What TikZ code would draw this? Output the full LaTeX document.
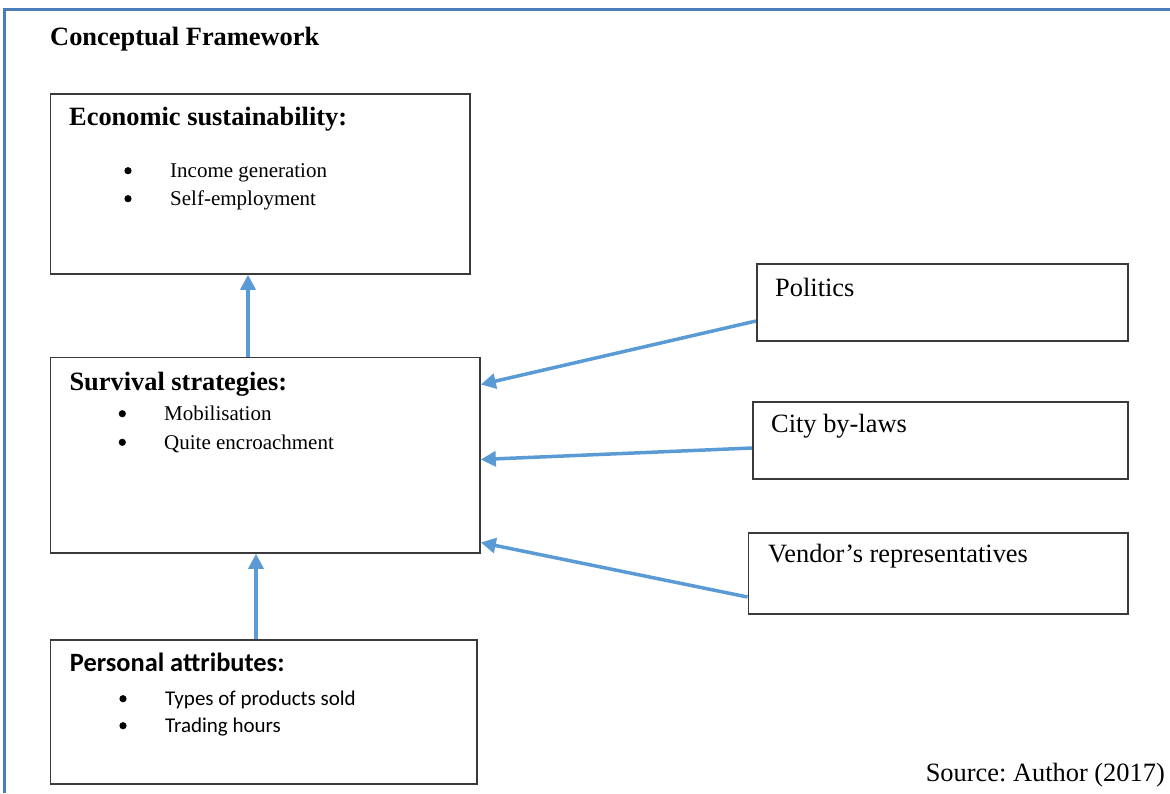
\documentclass[tikz,border=0pt]{standalone}
\usepackage{fontspec}
\setmainfont{Liberation Serif}
\newfontfamily\calibri{Carlito}
\usetikzlibrary{arrows.meta}
\frenchspacing

\definecolor{framebl}{RGB}{74,126,187}
\definecolor{arrowbl}{RGB}{91,155,213}
\definecolor{boxgray}{RGB}{58,58,58}
\newcommand{\headsize}{\fontsize{26.4}{30}\selectfont}
\newcommand{\itemsize}{\fontsize{21}{25}\selectfont}

\begin{document}
\begin{tikzpicture}[x=1pt, y=-1pt, every node/.style={inner sep=0pt, anchor=base west},
	box/.style={draw=boxgray, line width=1.8pt, anchor=north west},
	head/.style={font=\headsize\bfseries}, item/.style={font=\itemsize}, label/.style={font=\headsize},
	link/.style={draw=arrowbl, line width=3.5pt, -{Triangle[length=15pt, width=15pt]}}]
	\fill[white] (0,0) rectangle (1170,793);
	\useasboundingbox (0,0) rectangle (1170,793);
	\draw[framebl, line width=3pt] (4.7,793) -- (4.7,9.7) -- (1170,9.7);
	\node[head] (title) at (50,45.5) {Conceptual Framework};
	% left column, bullets drawn as dots
	\node[box, minimum width=419.5pt, minimum height=180pt] (econ) at (49.5,93) {};
	\node[head] (econ-head) at (69,125) {Economic sustainability:};
	\foreach \y/\t in {177.7/Income generation, 205.7/Self-employment} {\fill (128,\y-7) circle (3.6pt); \node[item] at (170,\y) {\t};}
	\node[box, minimum width=429.5pt, minimum height=195.5pt] (survival) at (49.5,356.5) {};
	\node[head] (survival-head) at (69.3,390) {Survival strategies:};
	\foreach \y/\t in {420.7/Mobilisation, 449.3/Quite encroachment} {\fill (122.3,\y-7) circle (3.6pt); \node[item] at (164,\y) {\t};}
	\node[box, minimum width=426.5pt, minimum height=144pt] (personal) at (49.5,639) {};
	\node[head, font=\calibri\headsize\bfseries] (personal-head) at (69.7,671.7) {Personal attributes:};
	\foreach \y/\t in {705/Types of products sold, 732/Trading hours} {\fill (123,\y-6.3) circle (3.6pt); \node[item, font=\calibri\itemsize] at (165,\y) {\t};}
	% right column
	\node[box, minimum width=371pt, minimum height=77pt] (politics) at (756,263) {};
	\node[label] at (775,296) {Politics};
	\node[box, minimum width=375pt, minimum height=77pt] (bylaws) at (752,401) {};
	\node[label] at (771,432.5) {City by-laws};
	\node[box, minimum width=379.5pt, minimum height=81pt] (vendors) at (747.5,532) {};
	\node[label] at (768,562.5) {Vendor’s representatives};
	\node[label, anchor=base east] (source) at (1165,781) {Source: Author (2017)};
	% arrows
	\draw[link] ([xshift=198.5pt]survival.north west) -- ([xshift=198.5pt]econ.south west);
	\draw[link] ([xshift=206.5pt]personal.north west) -- ([xshift=206.5pt]survival.south west);
	\foreach \n/\s/\t in {politics/58/28, bylaws/47/103, vendors/65/186} {\draw[link] ([yshift=-\s pt]\n.north west) -- ([yshift=-\t pt]survival.north east);}
\end{tikzpicture}
\end{document}
